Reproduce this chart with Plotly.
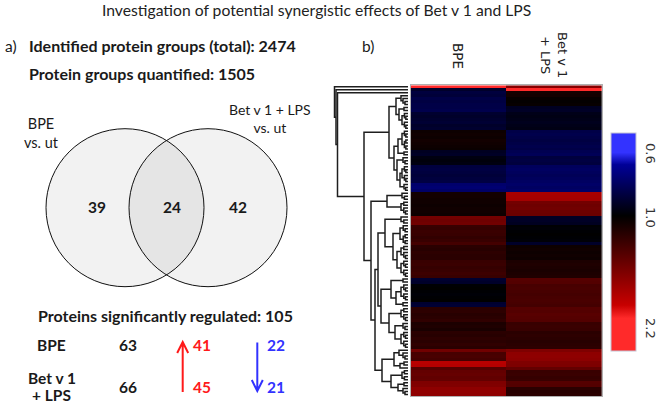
import numpy as np
import plotly.graph_objects as go

W, H = 660, 404
FONT = "Lato"
MONO = "DejaVu Sans"

# ---------------- data ----------------
title = "Investigation of potential synergistic effects of Bet v 1 and LPS"
total_identified = 2474
quantified = 1505
venn_labels = ["BPE<br>vs. ut", "Bet v 1 + LPS<br>vs. ut"]
venn_only_bpe = 39
venn_both = 24
venn_only_bet = 42
sig_total = 105
reg_groups = ["BPE", "Bet v 1", "+ LPS"]
reg_total = [63, 66]
reg_up = [41, 45]
reg_down = [22, 21]

col_labels = ["BPE", "Bet v 1<br>+ LPS"]
# fold change vs. untreated, rows in heatmap order (top to bottom)
bpe = [
    2.30,
    0.86,
    0.82, 0.83,
    0.80, 0.81, 0.80,
    0.80, 0.79,
    0.85, 0.86, 0.85, 0.84, 0.86, 0.85,
    1.00, 1.01, 1.00, 1.02, 1.01, 1.00, 0.99,
    0.88, 0.87,
    0.92, 0.93, 0.92,
    0.82, 0.81, 0.82, 0.83, 0.82, 0.81,
    0.73, 0.72, 0.74,
    1.02, 1.02, 1.01,
    1.01, 1.00, 1.01, 1.01, 1.00,
    1.40, 1.38, 1.39,
    1.15, 1.14, 1.16, 1.15, 1.13, 1.15, 1.20,
    1.10, 1.09, 1.11, 1.10, 1.10,
    1.15, 1.16, 1.14, 1.15, 1.17, 1.15,
    0.85, 0.86,
    0.95, 0.96, 0.95, 0.94, 0.95, 0.96,
    0.85, 0.84,
    1.10, 1.11, 1.09, 1.10, 1.12,
    1.05, 1.06, 1.04,
    1.10, 1.09, 1.11, 1.10, 1.12, 1.10,
    1.39,
    1.21, 1.22, 1.20,
    1.76, 1.74,
    1.27,
    1.33, 1.34, 1.32, 1.33,
    1.46, 1.47,
    1.53, 1.55, 1.54,
]
bet_lps = [
    1.50,
    2.40,
    1.03, 1.02,
    0.98, 0.97, 0.98,
    0.88, 0.87,
    0.90, 0.91, 0.90, 0.89, 0.90, 0.91,
    0.80, 0.79, 0.80, 0.81, 0.80, 0.79, 0.80,
    0.78, 0.77,
    0.82, 0.81, 0.82,
    0.76, 0.75, 0.76, 0.77, 0.76, 0.75,
    0.74, 0.75, 0.74,
    1.67, 1.66, 1.65,
    1.40, 1.38, 1.39, 1.37, 1.36,
    0.875, 0.87, 0.88,
    0.95, 0.94, 0.95, 0.96, 0.95, 0.94, 0.86,
    1.00, 1.01, 1.00, 1.01, 1.00,
    1.05, 1.06, 1.05, 1.04, 1.05, 1.06,
    1.27, 1.26,
    1.21, 1.22, 1.21, 1.20, 1.21, 1.22,
    1.21, 1.20,
    1.27, 1.26, 1.28, 1.27, 1.26,
    1.15, 1.16, 1.15,
    1.10, 1.11, 1.10, 1.09, 1.10, 1.11,
    1.46,
    1.53, 1.54, 1.52,
    1.46, 1.45,
    1.33,
    1.15, 1.16, 1.14, 1.15,
    1.27, 1.26,
    1.10, 1.09, 1.10,
]
cb_ticks = [0.6, 1.0, 2.2]
cb_ticktext = ["0.6", "1.0", "2.2"]
cb_range = [0.517, 2.61]


# dendrogram: (merge height, left, right); leaves = row index; band(start, n, h) = tight leaf group
def band(start, n, h):
    rows = list(range(start, start + n))

    def build(rs, hh):
        if len(rs) == 1:
            return rs[0]
        m = len(rs) // 2
        return (hh, build(rs[:m], hh * 0.6), build(rs[m:], hh * 0.6))
    return build(rows, h)


T1 = (12, (7, 3, band(4, 3, 5)), (9, band(7, 2, 4), band(9, 6, 6)))
T2 = (14, (10, band(15, 7, 6), band(22, 2, 4)),
      (11, band(24, 3, 5), (8, band(27, 6, 6), band(33, 3, 4))))
TOP = (19, T1, T2)
B1 = (21, band(36, 3, 6), band(39, 5, 7))
B2a1 = (23, band(44, 3, 7), (15, band(47, 7, 8), (11, band(54, 5, 7), band(59, 6, 7))))
B2a2 = (27, (17, band(65, 2, 5), (12, band(67, 6, 7), band(73, 2, 5))),
        (19, band(75, 5, 7), (13, band(80, 3, 5), band(83, 6, 7))))
B2b = (26, (14, (9, 89, band(90, 3, 5)), (8, band(93, 2, 4), 95)),
       (17, band(96, 4, 6), (10, band(100, 2, 4), band(102, 3, 5))))
BOT = (37, B1, (33, (30, B2a1, B2a2), B2b))
tree = (73.5, 0, (72, 1, (70.5, 2, (44, TOP, BOT))))

# ---------------- helpers ----------------
def P(px, py):
    return px / W, 1 - py / H


def ann(text, px, py, size=14, color="#1a1a1a", xanchor="center", bold=False,
        family=FONT, angle=0):
    x, y = P(px, py)
    return dict(text=f"<b>{text}</b>" if bold else text, x=x, y=y, xref="paper",
                yref="paper", xanchor=xanchor, yanchor="middle", showarrow=False,
                align="center", textangle=angle,
                font=dict(family=family, size=size, color=color))


fig = go.Figure()

# heatmap
u = lambda r: -np.log2(np.asarray(r, dtype=float))
z = np.column_stack([u(bpe), u(bet_lps)])
n = len(bpe)
cmax, cmin = float(u(cb_range[0])), float(u(cb_range[1]))
fig.add_trace(go.Heatmap(
    z=z, x=[0, 1], y=list(range(n)), zmin=cmin, zmax=cmax,
    colorscale=[[0, "#ff2a2a"], [0.15, "#ff2a2a"], [0.21, "#c80000"],
                [0.62, "#000000"], [0.855, "#000098"], [0.91, "#3333ff"],
                [1, "#3333ff"]],
    hoverinfo="skip",
    colorbar=dict(thickness=25, thicknessmode="pixels", len=218, lenmode="pixels",
                  x=610.7 / W, xanchor="left", y=1 - 242 / H, yanchor="middle",
                  xpad=0, ypad=0, tickvals=list(u(cb_ticks)), showticklabels=False,
                  ticks="", outlinewidth=1, outlinecolor="#c4c4d4")))

# dendrogram
segx, segy = [], []


def walk(node):
    if isinstance(node, int):
        return float(node), 0.0
    h, a, b = node
    pa, ha = walk(a)
    pb, hb = walk(b)
    segx.extend([ha, h, h, hb, None])
    segy.extend([pa, pa, pb, pb, None])
    return (pa + pb) / 2, h


walk(tree)
fig.add_trace(go.Scatter(x=segx, y=segy, xaxis="x2", yaxis="y", mode="lines",
                         line=dict(color="#1e1e1e", width=1.5), hoverinfo="skip",
                         showlegend=False))

hidden = dict(showgrid=False, zeroline=False, showticklabels=False, ticks="")
fig.update_layout(
    width=W, height=H, margin=dict(l=0, r=0, t=0, b=0),
    paper_bgcolor="white", plot_bgcolor="white", showlegend=False,
    xaxis=dict(domain=[410.7 / W, 602 / W], range=[-0.5, 1.5], showline=True,
               mirror=True, linecolor="#b0b0b0", linewidth=1, **hidden),
    yaxis=dict(domain=[1 - 396 / H, 1 - 85.3 / H], range=[n - 0.5, -0.5], showline=True,
               mirror=True, linecolor="#b0b0b0", linewidth=1, **hidden),
    xaxis2=dict(domain=[333 / W, 408 / W], range=[75, 0], anchor="y", visible=False),
)

# ---------------- left panel ----------------
shapes = []
c1, c2, r = (125, 207.7), (208, 207.7), 79


def circ(c, fill, line):
    x0, y1 = P(c[0] - r, c[1] - r)
    x1, y0 = P(c[0] + r, c[1] + r)
    return dict(type="circle", xref="paper", yref="paper", x0=x0, x1=x1, y0=y0, y1=y1,
                fillcolor=fill, line=dict(color=line, width=1 if line else 0),
                layer="below")


shapes += [circ(c1, "#f2f2f2", None), circ(c2, "#f2f2f2", None)]
# lens (intersection)
dx = (c2[0] - c1[0]) / 2
a = np.arccos(dx / r)
t1 = np.linspace(-a, a, 40)
t2 = np.linspace(np.pi - a, np.pi + a, 40)
pts = [P(c1[0] + r * np.cos(t), c1[1] + r * np.sin(t)) for t in t1] + \
      [P(c2[0] + r * np.cos(t), c2[1] + r * np.sin(t)) for t in t2]
path = "M " + " L ".join(f"{x:.5f},{y:.5f}" for x, y in pts) + " Z"
shapes.append(dict(type="path", xref="paper", yref="paper", path=path,
                   fillcolor="#e5e5e5", line=dict(width=0), layer="below"))
shapes += [dict(circ(c1, "rgba(0,0,0,0)", "#111"), layer="above"),
           dict(circ(c2, "rgba(0,0,0,0)", "#111"), layer="above")]


def arrow(x, ytail, ytip, color):
    d = 1 if ytip < ytail else -1
    p = [P(x, ytail), P(x, ytip), P(x - 5.5, ytip + d * 11), P(x + 5.5, ytip + d * 11)]
    s = (f"M {p[0][0]},{p[0][1]} L {p[1][0]},{p[1][1]} "
         f"M {p[2][0]},{p[2][1]} L {p[1][0]},{p[1][1]} L {p[3][0]},{p[3][1]}")
    return dict(type="path", xref="paper", yref="paper", path=s,
                line=dict(color=color, width=2))


RED, BLUE = "#ff1a1a", "#3232ff"
shapes += [arrow(182.7, 392, 342, RED), arrow(257.3, 342.5, 391, BLUE)]
fig.update_layout(shapes=shapes)

anns = [
    ann(title, 316, 10, size=15.7, color="#222"),
    ann("a)", 3, 46, size=15.5, xanchor="left"),
    ann(f"Identified protein groups (total): {total_identified}", 27, 46, size=16,
        xanchor="left", bold=True),
    ann(f"Protein groups quantified: {quantified}", 27, 74, size=16, xanchor="left",
        bold=True),
    ann("b)", 360, 46, size=15.5, xanchor="left"),
    ann(venn_labels[0], 41, 133, size=14.5),
    ann(venn_labels[1], 270, 118, size=14),
    ann(str(venn_only_bpe), 97, 206.5, size=15.5, bold=True),
    ann(str(venn_both), 172, 206.5, size=15.5, bold=True),
    ann(str(venn_only_bet), 238, 206.5, size=15.5, bold=True),
    ann(f"Proteins significantly regulated: {sig_total}", 165, 315, size=16, bold=True),
    ann(reg_groups[0], 52, 345, size=15.5, bold=True),
    ann(reg_groups[1], 52, 377.5, size=15.5, bold=True),
    ann(reg_groups[2], 52, 395, size=15.5, bold=True),
    ann(str(reg_total[0]), 128, 345, size=15.5, bold=True),
    ann(str(reg_total[1]), 128, 387, size=15.5, bold=True),
    ann(str(reg_up[0]), 202, 345, size=15.5, bold=True, color=RED),
    ann(str(reg_up[1]), 202, 387, size=15.5, bold=True, color=RED),
    ann(str(reg_down[0]), 276, 345, size=15.5, bold=True, color=BLUE),
    ann(str(reg_down[1]), 276, 387, size=15.5, bold=True, color=BLUE),
    # heatmap column labels
    ann(col_labels[0], 458, 56, size=13.5, family=MONO, color="#222", angle=90),
    ann(col_labels[1], 554, 55, size=13, family=MONO, color="#222", angle=90),
]
# colorbar tick labels (rotated like the reference)
cb_pix = [153, 217, 328]
for t, py in zip(cb_ticktext, cb_pix):
    anns.append(ann(t, 651, py, size=13, family=MONO, color="#333", angle=90))
fig.update_layout(annotations=anns)

fig.write_html("out.html", config={"displayModeBar": False},
               post_script="document.body.style.margin='0';document.body.style.overflow='hidden';")
